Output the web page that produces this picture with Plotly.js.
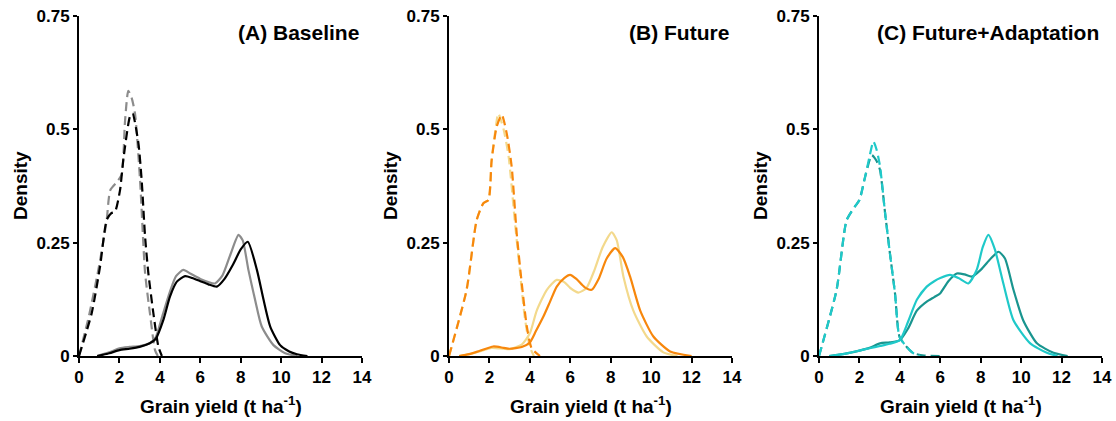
<!DOCTYPE html>
<html>
<head>
<meta charset="utf-8">
<script src="https://cdn.plot.ly/plotly-3.0.1.min.js"></script>
<style>
  html, body { margin: 0; padding: 0; background: #fff; }
  #chart { width: 1116px; height: 421px; }
</style>
</head>
<body>
<div id="chart"></div>
<script>
// Kernel density of grain yield (t ha-1) for three scenarios.
// Dashed = low-yield group, solid = high-yield group; two shades per panel.

const panelTitles = ["(A) Baseline", "(B) Future", "(C) Future+Adaptation"];
const xTitle = "Grain yield (t ha<sup>-1</sup>)";
const yTitle = "Density";
const xTickVals = [0, 2, 4, 6, 8, 10, 12, 14];
const yTickVals = [0, 0.25, 0.5, 0.75];
const yTickText = ["0", "0.25", "0.5", "0.75"];

// ---- Panel A: Baseline ----
const aDashLightX = [0, 0.5, 1.0, 1.37, 1.55, 1.9, 2.11, 2.28, 2.44, 2.6, 2.77, 3.02, 3.27, 3.51, 3.76, 3.9];
const aDashLightY = [0, 0.09, 0.2, 0.30, 0.366, 0.385, 0.40, 0.52, 0.585, 0.57, 0.535, 0.388, 0.183, 0.094, 0.013, 0];
const aDashDarkX = [0, 0.63, 1.04, 1.37, 1.6, 1.78, 2.03, 2.19, 2.52, 2.65, 2.94, 3.1, 3.27, 3.43, 3.68, 3.93, 4.1];
const aDashDarkY = [0, 0.095, 0.197, 0.30, 0.315, 0.318, 0.366, 0.432, 0.528, 0.535, 0.469, 0.388, 0.263, 0.183, 0.094, 0.02, 0];
const aSolidDarkX = [0.9, 1.5, 2.0, 2.5, 3.0, 3.5, 3.8, 4.17, 4.5, 4.84, 5.25, 5.6, 6.0, 6.4, 6.82, 7.2, 7.6, 8.0, 8.35, 8.8, 9.13, 9.46, 9.95, 10.4, 10.78, 11.3];
const aSolidDarkY = [0, 0.006, 0.013, 0.016, 0.02, 0.028, 0.038, 0.079, 0.131, 0.164, 0.176, 0.172, 0.165, 0.158, 0.153, 0.17, 0.2, 0.235, 0.252, 0.19, 0.124, 0.065, 0.024, 0.01, 0.004, 0];
const aSolidLightX = [0.9, 1.5, 2.0, 2.5, 3.0, 3.5, 3.8, 4.1, 4.5, 4.8, 5.16, 5.5, 6.0, 6.4, 6.73, 7.1, 7.5, 7.89, 8.1, 8.38, 8.71, 9.04, 9.62, 10.2, 10.8];
const aSolidLightY = [0, 0.008, 0.017, 0.02, 0.022, 0.028, 0.042, 0.085, 0.142, 0.176, 0.19, 0.182, 0.17, 0.163, 0.16, 0.178, 0.225, 0.267, 0.255, 0.19, 0.124, 0.065, 0.024, 0.006, 0];

// ---- Panel B: Future ----
const bDashLightX = [0, 0.87, 1.37, 1.7, 1.95, 2.11, 2.3, 2.44, 2.7, 2.95, 3.25, 3.5, 3.75, 4.0, 4.2];
const bDashLightY = [0, 0.146, 0.30, 0.337, 0.344, 0.432, 0.50, 0.535, 0.50, 0.44, 0.30, 0.19, 0.085, 0.02, 0];
const bDashDarkX = [0, 0.87, 1.37, 1.7, 1.95, 2.11, 2.36, 2.61, 2.86, 3.1, 3.35, 3.6, 3.85, 4.09, 4.5];
const bDashDarkY = [0, 0.146, 0.30, 0.337, 0.344, 0.432, 0.506, 0.532, 0.49, 0.418, 0.27, 0.16, 0.065, 0.017, 0];
const bSolidDarkX = [0.5, 1.0, 1.5, 2.19, 2.7, 3.0, 3.6, 4.0, 4.3, 4.67, 5.0, 5.33, 5.7, 5.99, 6.3, 6.7, 7.06, 7.4, 7.8, 8.22, 8.6, 8.96, 9.46, 10.11, 10.94, 12.0];
const bSolidDarkY = [0, 0.004, 0.011, 0.021, 0.018, 0.016, 0.02, 0.03, 0.055, 0.087, 0.12, 0.153, 0.172, 0.179, 0.17, 0.152, 0.146, 0.17, 0.215, 0.238, 0.218, 0.175, 0.10, 0.043, 0.01, 0];
const bSolidLightX = [0.5, 1.0, 1.5, 2.1, 2.7, 3.0, 3.6, 4.0, 4.34, 4.84, 5.33, 5.7, 6.0, 6.4, 6.8, 7.2, 7.6, 8.05, 8.3, 8.63, 9.12, 9.78, 10.6, 11.3];
const bSolidLightY = [0, 0.004, 0.01, 0.018, 0.016, 0.015, 0.025, 0.05, 0.10, 0.146, 0.168, 0.163, 0.15, 0.14, 0.15, 0.19, 0.24, 0.273, 0.255, 0.175, 0.10, 0.043, 0.008, 0];

// ---- Panel C: Future+Adaptation ----
const cDashLightX = [0, 0.87, 1.37, 1.78, 2.0, 2.28, 2.5, 2.69, 2.85, 3.02, 3.27, 3.51, 3.76, 3.98, 4.34, 4.67, 5.0];
const cDashLightY = [0, 0.146, 0.30, 0.33, 0.344, 0.395, 0.44, 0.473, 0.455, 0.418, 0.315, 0.226, 0.138, 0.043, 0.02, 0.006, 0];
const cDashDarkX = [0, 0.87, 1.37, 1.78, 2.0, 2.28, 2.61, 2.85, 3.02, 3.27, 3.51, 3.76, 3.98, 4.34, 4.67, 5.2, 6.0];
const cDashDarkY = [0, 0.146, 0.30, 0.33, 0.344, 0.395, 0.443, 0.43, 0.41, 0.315, 0.226, 0.138, 0.043, 0.02, 0.006, 0.001, 0];
const cSolidLightX = [0.5, 1.0, 1.5, 2.0, 2.5, 3.02, 3.5, 4.0, 4.4, 4.84, 5.33, 5.7, 6.0, 6.48, 6.9, 7.39, 7.8, 8.1, 8.38, 8.7, 9.12, 9.62, 10.45, 11.27, 11.8];
const cSolidLightY = [0, 0.003, 0.007, 0.012, 0.017, 0.022, 0.027, 0.035, 0.075, 0.124, 0.153, 0.165, 0.172, 0.179, 0.172, 0.16, 0.19, 0.24, 0.267, 0.235, 0.16, 0.079, 0.028, 0.007, 0];
const cSolidDarkX = [0.5, 1.0, 1.5, 2.0, 2.5, 3.02, 3.5, 4.0, 4.4, 4.84, 5.33, 5.7, 5.99, 6.4, 6.82, 7.2, 7.56, 8.0, 8.5, 8.88, 9.2, 9.62, 10.1, 10.78, 11.6, 12.3];
const cSolidDarkY = [0, 0.003, 0.007, 0.012, 0.018, 0.028, 0.03, 0.035, 0.06, 0.10, 0.12, 0.13, 0.138, 0.165, 0.182, 0.18, 0.175, 0.19, 0.215, 0.23, 0.215, 0.146, 0.079, 0.028, 0.007, 0];

// Colours per panel: [light, dark]
const colorsA = ["#8c8c8c", "#000000"];
const colorsB = ["#f3d98c", "#f7870c"];
const colorsC = ["#1fc9c9", "#19958f"];

const dashPattern = "9px,5px";
const lineW = 2.2;

function line(x, y, color, dashed, ax) {
  return {
    type: "scatter", mode: "lines", x: x, y: y,
    xaxis: "x" + ax, yaxis: "y" + ax,
    line: { color: color, width: lineW, dash: dashed ? dashPattern : "solid", shape: "spline", smoothing: 0.6 },
    hoverinfo: "skip", showlegend: false
  };
}

const traces = [
  line(aDashLightX, aDashLightY, colorsA[0], true, ""),
  line(aDashDarkX, aDashDarkY, colorsA[1], true, ""),
  line(aSolidLightX, aSolidLightY, colorsA[0], false, ""),
  line(aSolidDarkX, aSolidDarkY, colorsA[1], false, ""),

  line(bDashLightX, bDashLightY, colorsB[0], true, "2"),
  line(bDashDarkX, bDashDarkY, colorsB[1], true, "2"),
  line(bSolidLightX, bSolidLightY, colorsB[0], false, "2"),
  line(bSolidDarkX, bSolidDarkY, colorsB[1], false, "2"),

  line(cDashDarkX, cDashDarkY, colorsC[1], true, "3"),
  line(cDashLightX, cDashLightY, colorsC[0], true, "3"),
  line(cSolidDarkX, cSolidDarkY, colorsC[1], false, "3"),
  line(cSolidLightX, cSolidLightY, colorsC[0], false, "3"),
];

const W = 1116, H = 421;
const fontFam = "Liberation Sans, Arial, sans-serif";
const panelLeft = [79, 449, 819];
const panelWidth = 283;
const yDom = [(H - 356) / H, (H - 16) / H];
const boldFont = (size) => ({ family: fontFam, size: size, color: "#000", weight: "bold" });

function xAxis(i) {
  return {
    domain: [panelLeft[i] / W, (panelLeft[i] + panelWidth) / W],
    anchor: i === 0 ? "y" : "y" + (i + 1),
    range: [0, 14], tickvals: xTickVals,
    showline: true, linecolor: "#000", linewidth: 2,
    ticks: "outside", ticklen: 5, tickwidth: 2, tickcolor: "#000",
    showgrid: false, zeroline: false, fixedrange: true,
    tickfont: boldFont(17), automargin: false
  };
}
function yAxis(i) {
  return {
    domain: yDom,
    anchor: i === 0 ? "x" : "x" + (i + 1),
    range: [0, 0.75], tickvals: yTickVals, ticktext: yTickText,
    showline: true, linecolor: "#000", linewidth: 2,
    ticks: "outside", ticklen: 4, tickwidth: 2, tickcolor: "#000",
    showgrid: false, zeroline: false, fixedrange: true,
    tickfont: boldFont(17), automargin: false
  };
}

const annotations = [];
panelTitles.forEach((t, i) => {
  // panel heading, top-right inside the plot
  annotations.push({
    text: t, xref: "paper", yref: "paper",
    x: (panelLeft[i] + panelWidth - 1) / W, y: (H - 32) / H,
    xanchor: "right", yanchor: "middle", showarrow: false, font: boldFont(21)
  });
  // x-axis title
  annotations.push({
    text: xTitle, xref: "paper", yref: "paper",
    x: (panelLeft[i] + panelWidth / 2) / W, y: (H - 405) / H,
    xanchor: "center", yanchor: "middle", showarrow: false, font: boldFont(19)
  });
  // y-axis title
  annotations.push({
    text: yTitle, xref: "paper", yref: "paper", textangle: -90,
    x: (panelLeft[i] - 59) / W, y: (H - 186) / H,
    xanchor: "center", yanchor: "middle", showarrow: false, font: boldFont(19)
  });
});

const layout = {
  width: W, height: H,
  margin: { l: 0, r: 0, t: 0, b: 0 },
  paper_bgcolor: "#fff", plot_bgcolor: "#fff",
  showlegend: false,
  xaxis: xAxis(0), yaxis: yAxis(0),
  xaxis2: xAxis(1), yaxis2: yAxis(1),
  xaxis3: xAxis(2), yaxis3: yAxis(2),
  annotations: annotations
};

Plotly.newPlot("chart", traces, layout, { displayModeBar: false, staticPlot: true });
</script>
</body>
</html>
